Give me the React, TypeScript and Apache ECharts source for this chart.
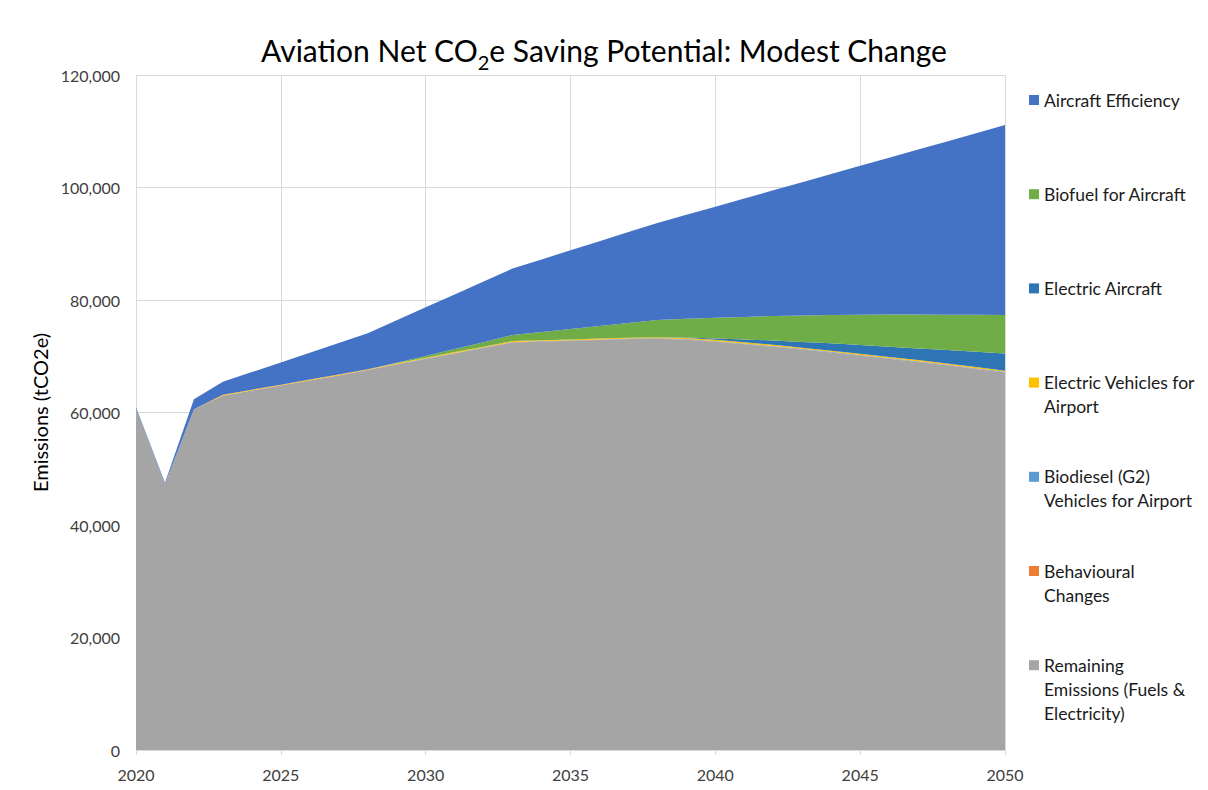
import React, { useEffect, useRef } from "react";
import * as echarts from "echarts";

// Years on the horizontal axis (annual steps)
const years: string[] = Array.from({ length: 31 }, (_, i) => String(2020 + i));

// Annual values, tCO2e, for each saving measure (stacked above the remaining emissions)
const remainingEmissions = [
  60700, 47300, 60600, 63000, 63900, 64800, 65700, 66600, 67550, 68550,
  69500, 70500, 71450, 72450, 72600, 72750, 72900, 73050, 73150, 72950,
  72600, 72150, 71700, 71200, 70650, 70100, 69550, 69000, 68400, 67750,
  67100,
];
const behaviouralChanges = [
  0, 0, 0, 30, 30, 30, 30, 30, 30, 30,
  30, 30, 30, 30, 30, 30, 30, 30, 30, 30,
  30, 30, 30, 30, 30, 30, 30, 30, 30, 30,
  30,
];
const biodieselVehicles = [
  0, 0, 0, 0, 0, 0, 0, 0, 0, 30,
  60, 60, 60, 60, 60, 60, 60, 60, 60, 80,
  100, 100, 100, 100, 100, 100, 100, 100, 100, 100,
  100,
];
const electricVehicles = [
  0, 0, 0, 120, 120, 120, 120, 120, 120, 150,
  150, 150, 150, 150, 150, 150, 150, 150, 150, 180,
  200, 200, 200, 200, 200, 200, 200, 200, 200, 200,
  200,
];
const electricAircraft = [
  0, 0, 0, 0, 0, 0, 0, 0, 0, 0,
  0, 0, 0, 0, 0, 0, 0, 0, 0, 100,
  220, 520, 770, 1020, 1320, 1570, 1820, 2070, 2370, 2720,
  3070,
];
const biofuelAircraft = [
  0, 0, 0, 0, 0, 0, 0, 0, 0, 100,
  300, 550, 820, 1100, 1480, 1860, 2240, 2630, 3060, 3310,
  3700, 4000, 4350, 4700, 5030, 5400, 5720, 6020, 6300, 6570,
  6830,
];
const aircraftEfficiency = [
  250, 200, 1750, 2300, 3130, 3950, 4790, 5620, 6400, 7540,
  8660, 9710, 10790, 11810, 12900, 13990, 15080, 16160, 17250, 18500,
  19750, 21050, 22350, 23700, 25070, 26450, 27880, 29330, 30800, 32280,
  33770,
];

// Series names (bottom of the stack first) and their colours
const seriesNames = [
  "Remaining Emissions (Fuels & Electricity)",
  "Behavioural Changes",
  "Biodiesel (G2) Vehicles for Airport",
  "Electric Vehicles for Airport",
  "Electric Aircraft",
  "Biofuel for Aircraft",
  "Aircraft Efficiency",
];
const seriesColors = ["#A5A5A5", "#ED7D31", "#5B9BD5", "#FFC000", "#2E75B6", "#70AD47", "#4472C4"];
const seriesData = [
  remainingEmissions,
  behaviouralChanges,
  biodieselVehicles,
  electricVehicles,
  electricAircraft,
  biofuelAircraft,
  aircraftEfficiency,
];

// Legend entries, top to bottom, with their wrapped labels
const legendOrder = [
  "Aircraft Efficiency",
  "Biofuel for Aircraft",
  "Electric Aircraft",
  "Electric Vehicles for Airport",
  "Biodiesel (G2) Vehicles for Airport",
  "Behavioural Changes",
  "Remaining Emissions (Fuels & Electricity)",
];
const legendLabels = [
  ["Aircraft Efficiency"],
  ["Biofuel for Aircraft"],
  ["Electric Aircraft"],
  ["Electric Vehicles for", "Airport"],
  ["Biodiesel (G2)", "Vehicles for Airport"],
  ["Behavioural", "Changes"],
  ["Remaining", "Emissions (Fuels &", "Electricity)"],
];

const FONT = "Lato, 'Noto Sans', sans-serif";

export default function App() {
  const ref = useRef<HTMLDivElement>(null);

  useEffect(() => {
    if (!ref.current) return;
    const chart = echarts.init(ref.current, undefined, { renderer: "svg" });

    const lineH = 24;
    const firstCenter = 100;
    const step = 94.2;

    // One legend block per entry so each starts on an even vertical rhythm;
    // blank lines above keep the swatch level with the first text line.
    const legends = legendOrder.map((name, i) => {
      const lines = legendLabels[i];
      const pad = lines.length - 1;
      const text = "\n".repeat(pad) + lines.join("\n");
      const center = firstCenter + i * step;
      const top = center - (pad + 0.5) * lineH;
      return {
        show: true,
        data: [name],
        left: 1029,
        top,
        orient: "vertical" as const,
        itemWidth: 10,
        itemHeight: 10,
        icon: "rect",
        padding: 0,
        formatter: () => text,
        textStyle: {
          fontFamily: FONT,
          fontSize: 17.5,
          color: "#1a1a1a",
          lineHeight: lineH,
        },
        selectedMode: false,
      };
    });

    chart.setOption({
      animation: false,
      backgroundColor: "#ffffff",
      textStyle: { fontFamily: FONT },
      title: {
        text: "{a|Aviation Net CO}{s|2}{a|e Saving Potential: Modest Change}",
        left: "center",
        top: 18,
        textStyle: {
          fontWeight: "normal",
          rich: {
            a: { fontFamily: FONT, fontSize: 30, fontWeight: "normal", color: "#000000", lineHeight: 42, verticalAlign: "bottom" },
            s: { fontFamily: FONT, fontSize: 20, fontWeight: "normal", color: "#000000", lineHeight: 42, verticalAlign: "bottom", padding: [0, 0, -7, 0] },
          },
        },
      },
      legend: legends,
      grid: { left: 136, right: 203, top: 75, bottom: 40, containLabel: false },
      xAxis: {
        type: "category",
        data: years,
        boundaryGap: false,
        axisLine: { show: true, lineStyle: { color: "#D9D9D9" } },
        axisTick: { show: true, interval: 4, length: 5, inside: false, lineStyle: { color: "#D9D9D9" } },
        axisLabel: { interval: 4, color: "#404040", fontSize: 16, fontFamily: FONT, margin: 16 },
        splitLine: { show: true, interval: 4, lineStyle: { color: "#D9D9D9", width: 1 } },
      },
      yAxis: {
        type: "value",
        min: 0,
        max: 120000,
        interval: 20000,
        name: "Emissions (tCO2e)",
        nameLocation: "middle",
        nameGap: 86,
        nameTextStyle: { fontFamily: FONT, fontSize: 20, color: "#000000" },
        axisLine: { show: false },
        axisTick: { show: false },
        axisLabel: {
          color: "#404040",
          fontSize: 16,
          fontFamily: FONT,
          margin: 16,
          formatter: (v: number) => v.toLocaleString("en-US"),
        },
        splitLine: { show: true, lineStyle: { color: "#D9D9D9", width: 1 } },
      },
      series: seriesNames.map((name, i) => ({
        name,
        type: "line",
        stack: "total",
        data: seriesData[i],
        symbol: "none",
        lineStyle: { width: 0 },
        areaStyle: { color: seriesColors[i], opacity: 1 },
        itemStyle: { color: seriesColors[i] },
        emphasis: { disabled: true },
        z: 2,
      })),
      graphic: [
        {
          type: "rect",
          shape: { x: 1.5, y: 1.5, width: 1204, height: 786 },
          style: { fill: "none", stroke: "#D9D9D9", lineWidth: 1 },
          silent: true,
        },
      ],
    });

    return () => chart.dispose();
  }, []);

  return <div ref={ref} style={{ width: 1208, height: 790, margin: -8 }} />;
}
